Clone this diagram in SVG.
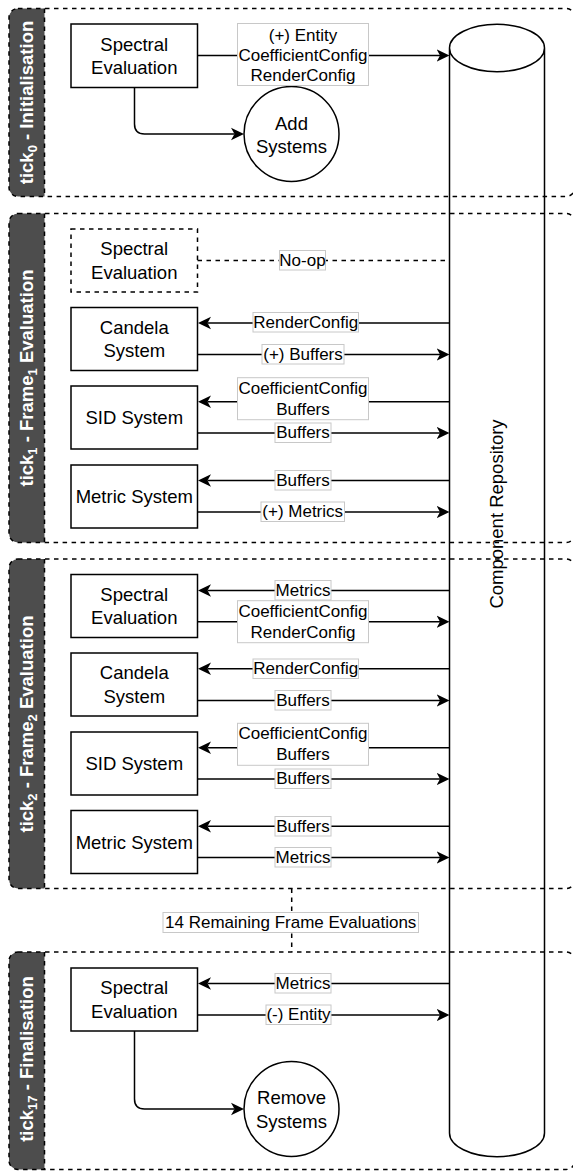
<svg xmlns="http://www.w3.org/2000/svg" width="573" height="1171" viewBox="0 0 573 1171">
<style>
.grp{fill:none;stroke:#000;stroke-width:1.5;stroke-dasharray:4.5 4.5}
.tab{fill:#4d4d4d}
.tt{font-family:"Liberation Sans",Arial,sans-serif;font-weight:bold;font-size:18.5px;fill:#fff;text-anchor:middle}
.box{fill:#fff;stroke:#000;stroke-width:1.5}
.dbox{fill:#fff;stroke:#000;stroke-width:1.5;stroke-dasharray:4.5 4.5}
.t{font-family:"Liberation Sans",Arial,sans-serif;font-size:18.5px;fill:#000;text-anchor:middle;dominant-baseline:central}
.lt{font-family:"Liberation Sans",Arial,sans-serif;font-size:17px;fill:#000;text-anchor:middle;dominant-baseline:central}
.lb{fill:#fff;stroke:#c8c8c8;stroke-width:1}
.e{fill:none;stroke:#000;stroke-width:1.5}
.ea{marker-end:url(#arr)}
.ed{stroke-dasharray:4.5 4.5}
</style>
<defs>
<marker id="arr" viewBox="0 -7 14 14" refX="3.5" refY="0" markerWidth="14" markerHeight="14" markerUnits="userSpaceOnUse" orient="auto">
<path d="M13,0 L0,-6.3 L3.5,0 L0,6.3 Z" fill="#000"/>
</marker>
</defs>

<g id="group-init">
<path class="tab" d="M44.5,8.5 H18 A9,9 0 0 0 9,17.5 V187.5 A9,9 0 0 0 18,196.5 H44.5 Z"/>
<rect class="grp" x="9" y="8.5" width="566" height="188" rx="9"/>
<line class="grp" x1="44.5" y1="8.5" x2="44.5" y2="196.5"/>
<text class="tt" transform="translate(26.5,102.5) rotate(-90)" y="6.6">tick<tspan font-size="13" dy="4">0</tspan><tspan dy="-4"> - Initialisation</tspan></text>
</g>

<g id="group-frame1">
<path class="tab" d="M44.5,213.5 H18 A9,9 0 0 0 9,222.5 V533.5 A9,9 0 0 0 18,542.5 H44.5 Z"/>
<rect class="grp" x="9" y="213.5" width="566" height="329" rx="9"/>
<line class="grp" x1="44.5" y1="213.5" x2="44.5" y2="542.5"/>
<text class="tt" transform="translate(26.5,378) rotate(-90)" y="6.6">tick<tspan font-size="13" dy="4">1</tspan><tspan dy="-4"> - Frame</tspan><tspan font-size="13" dy="4">1</tspan><tspan dy="-4"> Evaluation</tspan></text>
</g>

<g id="group-frame2">
<path class="tab" d="M44.5,559 H18 A9,9 0 0 0 9,568 V879.5 A9,9 0 0 0 18,888.5 H44.5 Z"/>
<rect class="grp" x="9" y="559" width="566" height="329.5" rx="9"/>
<line class="grp" x1="44.5" y1="559" x2="44.5" y2="888.5"/>
<text class="tt" transform="translate(26.5,724) rotate(-90)" y="6.6">tick<tspan font-size="13" dy="4">2</tspan><tspan dy="-4"> - Frame</tspan><tspan font-size="13" dy="4">2</tspan><tspan dy="-4"> Evaluation</tspan></text>
</g>

<g id="group-final">
<path class="tab" d="M44.5,952 H18 A9,9 0 0 0 9,961 V1160.5 A9,9 0 0 0 18,1169.5 H44.5 Z"/>
<rect class="grp" x="9" y="952" width="566" height="217.5" rx="9"/>
<line class="grp" x1="44.5" y1="952" x2="44.5" y2="1169.5"/>
<text class="tt" transform="translate(26.5,1059) rotate(-90)" y="6.6">tick<tspan font-size="13" dy="4">17</tspan><tspan dy="-4"> - Finalisation</tspan></text>
</g>

<g id="component-repository">
<path class="e" d="M449.5,48 A47.5,23.7 0 0 1 544.5,48 V1133 A47.5,23.7 0 0 1 449.5,1133 Z M449.5,48 A47.5,23.7 0 0 0 544.5,48"/>
<text class="t" transform="translate(496,514) rotate(-90)">Component Repository</text>
</g>

<g id="n-spectral-0">
<rect class="box" x="71" y="24" width="126.5" height="63.5"/>
<text class="t" x="134.25" y="44">Spectral</text>
<text class="t" x="134.25" y="67.5">Evaluation</text>
</g>
<g id="n-add-systems">
<circle class="box" cx="291.5" cy="134" r="47.5"/>
<text class="t" x="291.5" y="123">Add</text>
<text class="t" x="291.5" y="146.5">Systems</text>
</g>

<g id="n-spectral-1">
<rect class="dbox" x="71" y="229" width="126.5" height="63"/>
<text class="t" x="134.25" y="248.8">Spectral</text>
<text class="t" x="134.25" y="272.2">Evaluation</text>
</g>
<g id="n-candela-1">
<rect class="box" x="71" y="307.5" width="126.5" height="63"/>
<text class="t" x="134.25" y="327.3">Candela</text>
<text class="t" x="134.25" y="350.7">System</text>
</g>
<g id="n-sid-1">
<rect class="box" x="71" y="386" width="126.5" height="63"/>
<text class="t" x="134.25" y="417.5">SID System</text>
</g>
<g id="n-metric-1">
<rect class="box" x="71" y="465" width="126.5" height="63"/>
<text class="t" x="134.25" y="496.5">Metric System</text>
</g>

<g id="n-spectral-2">
<rect class="box" x="71" y="574.5" width="126.5" height="63"/>
<text class="t" x="134.25" y="594.3">Spectral</text>
<text class="t" x="134.25" y="617.7">Evaluation</text>
</g>
<g id="n-candela-2">
<rect class="box" x="71" y="653" width="126.5" height="63"/>
<text class="t" x="134.25" y="672.8">Candela</text>
<text class="t" x="134.25" y="696.2">System</text>
</g>
<g id="n-sid-2">
<rect class="box" x="71" y="732" width="126.5" height="63"/>
<text class="t" x="134.25" y="763.5">SID System</text>
</g>
<g id="n-metric-2">
<rect class="box" x="71" y="810.5" width="126.5" height="63"/>
<text class="t" x="134.25" y="842">Metric System</text>
</g>

<g id="n-spectral-17">
<rect class="box" x="71" y="968" width="126.5" height="63"/>
<text class="t" x="134.25" y="987.8">Spectral</text>
<text class="t" x="134.25" y="1011.2">Evaluation</text>
</g>
<g id="n-remove-systems">
<circle class="box" cx="291.5" cy="1109" r="47.5"/>
<text class="t" x="291.5" y="1097.5">Remove</text>
<text class="t" x="291.5" y="1121">Systems</text>
</g>

<g id="connectors">
<!-- tick0 -->
<path class="e ea" d="M197.5,55.5 H440"/>
<rect class="lb" x="237.5" y="23.5" width="131" height="62"/>
<text class="lt" x="303" y="35">(+) Entity</text>
<text class="lt" x="303" y="55">CoefficientConfig</text>
<text class="lt" x="303" y="75">RenderConfig</text>
<path class="e ea" d="M134.5,87.5 V124 Q134.5,134 144.5,134 H234.5"/>

<!-- tick1 -->
<path class="e ed" d="M197.5,260.5 H449.5"/>
<rect class="lb" x="279.5" y="250.5" width="46" height="19.5"/>
<text class="lt" x="302.5" y="260.3">No-op</text>

<path class="e ea" d="M449.5,323 H207.5"/>
<rect class="lb" x="253" y="312.5" width="105.5" height="19.5"/>
<text class="lt" x="305.7" y="322.2">RenderConfig</text>
<path class="e ea" d="M197.5,354.5 H440"/>
<rect class="lb" x="262" y="344.5" width="82" height="19.5"/>
<text class="lt" x="303" y="354.2">(+) Buffers</text>

<path class="e ea" d="M449.5,401.75 H207.5"/>
<rect class="lb" x="237.5" y="377.7" width="131" height="42"/>
<text class="lt" x="303" y="388.2">CoefficientConfig</text>
<text class="lt" x="303" y="409">Buffers</text>
<path class="e ea" d="M197.5,433 H440"/>
<rect class="lb" x="275" y="423" width="56" height="19.5"/>
<text class="lt" x="303" y="432.7">Buffers</text>

<path class="e ea" d="M449.5,480.5 H207.5"/>
<rect class="lb" x="275" y="470.5" width="56" height="19.5"/>
<text class="lt" x="303" y="480.2">Buffers</text>
<path class="e ea" d="M197.5,512 H440"/>
<rect class="lb" x="261" y="502" width="83.5" height="19.5"/>
<text class="lt" x="302.7" y="511.7">(+) Metrics</text>

<!-- tick2 -->
<path class="e ea" d="M449.5,590.5 H207.5"/>
<rect class="lb" x="275" y="580.5" width="56" height="19.5"/>
<text class="lt" x="303" y="590.2">Metrics</text>
<path class="e ea" d="M197.5,621.75 H440"/>
<rect class="lb" x="237.5" y="600.7" width="131" height="42"/>
<text class="lt" x="303" y="611.2">CoefficientConfig</text>
<text class="lt" x="303" y="632">RenderConfig</text>

<path class="e ea" d="M449.5,668.75 H207.5"/>
<rect class="lb" x="253" y="659" width="105.5" height="19.5"/>
<text class="lt" x="305.7" y="668.7">RenderConfig</text>
<path class="e ea" d="M197.5,700.5 H440"/>
<rect class="lb" x="275" y="690.5" width="56" height="19.5"/>
<text class="lt" x="303" y="700.2">Buffers</text>

<path class="e ea" d="M449.5,747.75 H207.5"/>
<rect class="lb" x="237.5" y="723.3" width="131" height="42"/>
<text class="lt" x="303" y="733.8">CoefficientConfig</text>
<text class="lt" x="303" y="754.6">Buffers</text>
<path class="e ea" d="M197.5,779 H440"/>
<rect class="lb" x="275" y="769" width="56" height="19.5"/>
<text class="lt" x="303" y="778.7">Buffers</text>

<path class="e ea" d="M449.5,826.25 H207.5"/>
<rect class="lb" x="275" y="816.5" width="56" height="19.5"/>
<text class="lt" x="303" y="826.2">Buffers</text>
<path class="e ea" d="M197.5,857.5 H440"/>
<rect class="lb" x="275" y="847.5" width="56" height="19.5"/>
<text class="lt" x="303" y="857.2">Metrics</text>

<!-- gap -->
<path class="e ed" d="M291.7,888.5 V952"/>
<rect class="lb" x="163" y="912.5" width="255.5" height="20"/>
<text class="lt" x="290.7" y="922.3">14 Remaining Frame Evaluations</text>

<!-- tick17 -->
<path class="e ea" d="M449.5,983.5 H207.5"/>
<rect class="lb" x="275" y="973.5" width="56" height="19.5"/>
<text class="lt" x="303" y="983.2">Metrics</text>
<path class="e ea" d="M197.5,1015 H440"/>
<rect class="lb" x="266" y="1005" width="65" height="19.5"/>
<text class="lt" x="298.5" y="1014.7">(-) Entity</text>
<path class="e ea" d="M134.5,1031 V1099 Q134.5,1109 144.5,1109 H234.5"/>
</g>
</svg>
